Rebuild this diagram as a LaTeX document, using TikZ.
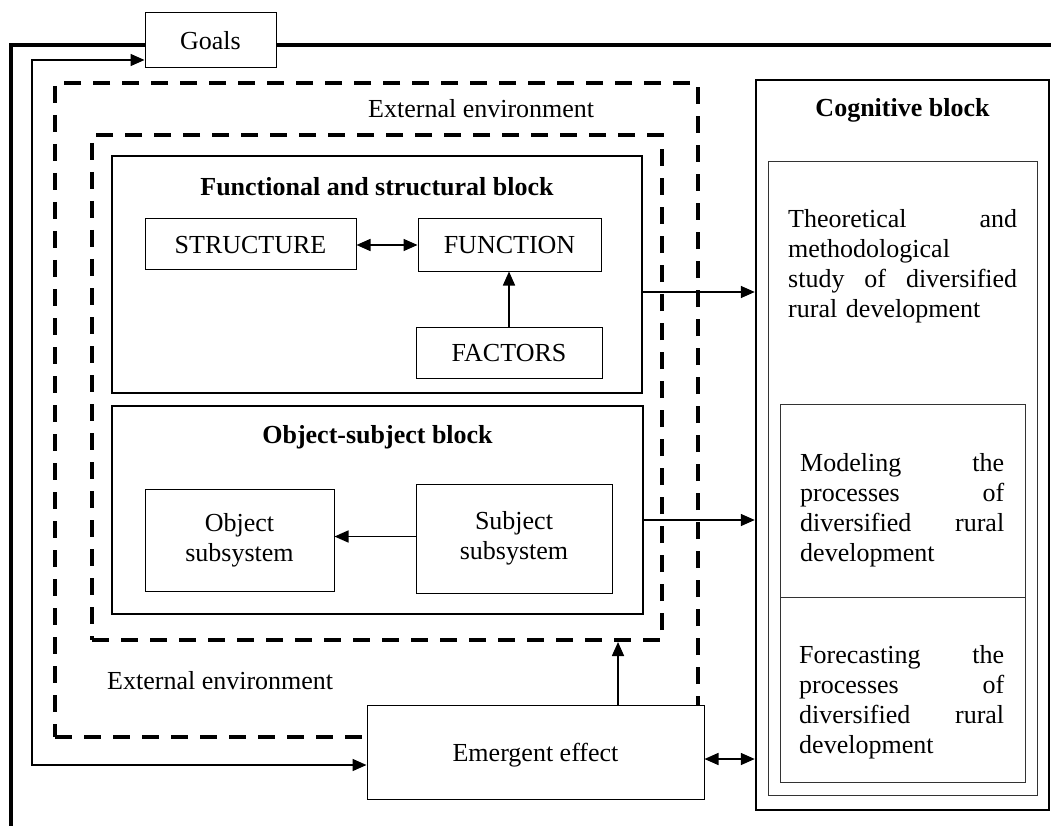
\documentclass[tikz,border=0pt]{standalone}
\usepackage{fontspec}
\setmainfont{Liberation Serif}
\usetikzlibrary{arrows.meta}

\begin{document}
\begin{tikzpicture}[x=1pt,y=-1pt,
    every node/.style={font=\fontsize{26}{30}\selectfont, inner sep=0pt},
    smallbox/.style={rectangle, draw=black, line width=1pt, text height=18pt, text depth=0pt},
    twobox/.style={rectangle, draw=black, line width=1pt, align=center},
    blockstyle/.style={rectangle, draw=black, line width=2pt},
    envstyle/.style={rectangle, draw=black, line width=4pt, dash pattern=on 17pt off 12pt},
    cogstyle/.style={rectangle, draw=black, line width=2.5pt},
    cellstyle/.style={rectangle, draw=black!80, line width=1pt},
    titlestyle/.style={font=\fontsize{26}{30}\selectfont\bfseries, anchor=base},
    parastyle/.style={anchor=north west, align=left},
    framestyle/.style={line width=3.5pt},
    arr/.style={line width=1.6pt, -{Triangle[length=14pt,width=12pt]}},
    dblarr/.style={line width=1.6pt, {Triangle[length=14pt,width=12pt]}-{Triangle[length=14pt,width=12pt]}}]
    \useasboundingbox (0,0) rectangle (1051,826);
    \node (outenv) at (376.5,410)[envstyle, minimum width=643pt, minimum height=654pt]{};
    \node (inenv) at (377,387.5)[envstyle, minimum width=570pt, minimum height=505pt]{};
    \node (envtop) at (368,118)[anchor=base west]{External environment};
    \node (envbot) at (107,689)[anchor=base west]{External environment};
    \node (funcblk) at (377,274.5)[blockstyle, minimum width=530pt, minimum height=237pt]{};
    \node (fstitle) at (377,196)[titlestyle]{Functional and structural block};
    \node (structure) at (250.5,244)[smallbox, minimum width=211pt, minimum height=50pt]{STRUCTURE};
    \node (function) at (509.5,245)[smallbox, minimum width=183pt, minimum height=52pt]{FUNCTION};
    \node (factors) at (509,352.5)[smallbox, minimum width=186pt, minimum height=51pt]{FACTORS};
    \node (osblk) at (377.5,510)[blockstyle, minimum width=531pt, minimum height=208pt]{};
    \node (ostitle) at (377.5,443)[titlestyle]{Object-subject block};
    \node (objsub) at (239.5,540)[twobox, minimum width=189pt, minimum height=102pt]{Object\\subsystem};
    \node (subjsub) at (514,538.5)[twobox, minimum width=196pt, minimum height=109pt]{Subject\\subsystem};
    \node (emergent) at (535.5,752)[smallbox, fill=white, minimum width=337pt, minimum height=94pt]{Emergent effect};
    \node (goals) at (210.5,40.5)[smallbox, minimum width=131pt, minimum height=55pt]{Goals};
    \node (cogn) at (902.5,445)[cogstyle, minimum width=293pt, minimum height=730pt]{};
    \node (cogtitle) at (902.5,117)[titlestyle]{Cognitive block};
    \node (coginner) at (902.5,478.5)[cellstyle, minimum width=269pt, minimum height=633pt]{};
    \node (model) at (902.5,500.5)[cellstyle, minimum width=245pt, minimum height=193pt]{};
    \node (fcast) at (902.5,689.5)[cellstyle, minimum width=245pt, minimum height=185pt]{};
    \node (theory) at (788,209)[parastyle, text width=229pt]{Theoretical\hfill and\\ methodological\\ study\hfill of\hfill diversified\\ rural development};
    \node (modeltxt) at (800,453)[parastyle, text width=204pt]{Modeling\hfill the\\ processes\hfill of\\ diversified\hfill rural\\ development};
    \node (fcasttxt) at (799,645)[parastyle, text width=205pt]{Forecasting\hfill the\\ processes\hfill of\\ diversified\hfill rural\\ development};
    \coordinate (corner) at (11,45);
    \coordinate (frameend) at (11,826);
    \coordinate (loop) at (32,60);
    \draw[framestyle] ([yshift=-4.5pt]goals.west) -- (corner) -- (frameend);
    \draw[framestyle] ([yshift=-4.5pt]goals.east) -- ++(775,0);
    \draw[dblarr] ([yshift=-1pt]structure.east) -- ([yshift=-1pt]structure.east -| function.west);
    \draw[arr] (factors.north) -- (factors.north |- function.south);
    \draw[arr] ([yshift=2pt]subjsub.west) -- ([yshift=2pt]subjsub.west -| objsub.east);
    \draw[arr] ([yshift=-17.5pt]funcblk.east) -- ([yshift=-17.5pt]funcblk.east -| cogn.west);
    \draw[arr] ([yshift=-10pt]osblk.east) -- ([yshift=-10pt]osblk.east -| cogn.west);
    \draw[arr] ([xshift=82.5pt]emergent.north) -- ([xshift=82.5pt]emergent.north |- inenv.south);
    \draw[dblarr] ([yshift=-7pt]emergent.east) -- ([yshift=-7pt]emergent.east -| cogn.west);
    \draw[dblarr] ([yshift=-13pt]emergent.west) -| (loop) -- ([yshift=-19.5pt]goals.west);
\end{tikzpicture}
\end{document}
